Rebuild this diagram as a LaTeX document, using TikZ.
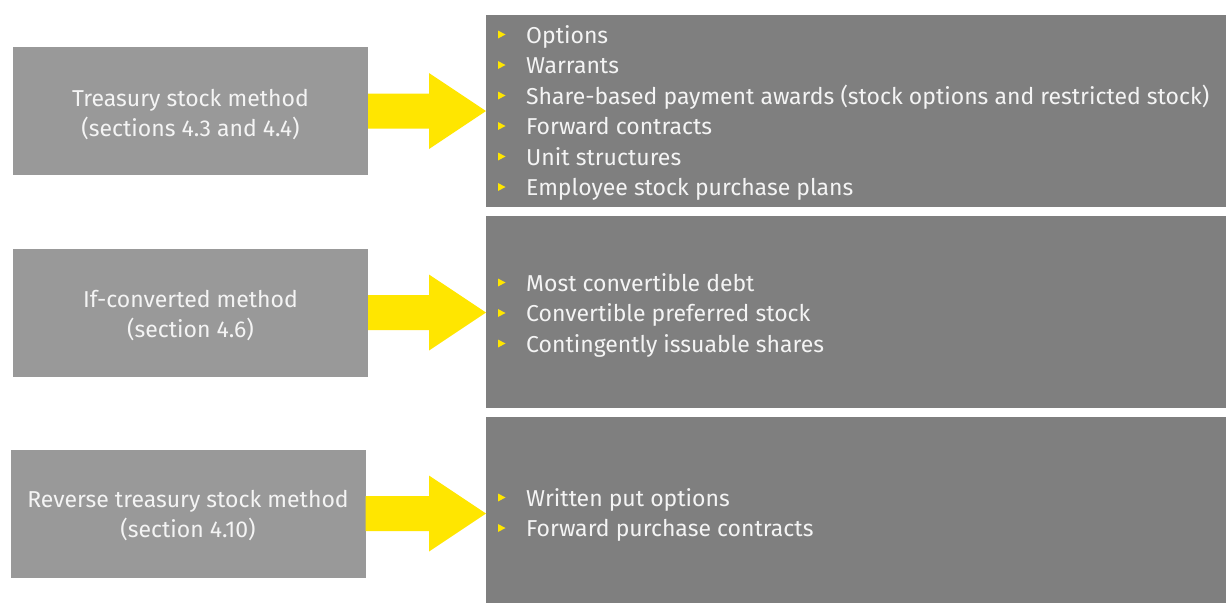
\documentclass[tikz,border=0pt]{standalone}
\usepackage{fontspec}
\setmainfont{Fira Sans}
\usetikzlibrary{calc}
\definecolor{eyyellow}{HTML}{FFE600}
\definecolor{methodgray}{HTML}{999999}
\definecolor{listgray}{HTML}{7F7F7F}
\definecolor{softwhite}{HTML}{F4F4F4}
\begin{document}
\begin{tikzpicture}[x=1pt,y=-1pt,
  method/.style={fill=methodgray,minimum width=355pt,minimum height=128pt,inner sep=0pt},
  methodtext/.style={inner sep=0pt,text=softwhite,align=center,font=\fontsize{23}{30}\selectfont},
  listbox/.style={fill=listgray,minimum width=740pt,inner sep=0pt,anchor=north west},
  itemtext/.style={anchor=base west,inner sep=0pt,text=softwhite,font=\fontsize{23}{30}\selectfont},
  bigarrow/.style={fill=eyyellow},
  bullet/.style={fill=eyyellow}]
\useasboundingbox (0,0) rectangle (1226,603);
\fill[white] (0,0) rectangle (1226,603);

% method boxes with their captions
\node[method] (m1) at (190.5,111) {};
\node[method] (m2) at (190.5,312.5) {};
\node[method] (m3) at (188,513.5) {};
\node[methodtext] (m1t) at ($(m1.center)+(0,3.5)$) {Treasury stock method\\(sections 4.3 and 4.4)};
\node[methodtext] (m2t) at ($(m2.center)+(0,3)$) {If-converted method\\(section 4.6)};
\node[methodtext] (m3t) at ($(m3.center)+(0,2.5)$) {Reverse treasury stock method\\(section 4.10)};

% list panels
\node[listbox,minimum height=192pt] (r1) at (486,15) {};
\node[listbox,minimum height=192pt] (r2) at (486,216) {};
\node[listbox,minimum height=186pt] (r3) at (486,417) {};

% arrows from each method to its panel
\foreach \m/\r in {m1/r1,m2/r2,m3/r3}{
  \fill[bigarrow] ($(\m.east)+(0,-17.5)$) -- ($(\m.east -| 429,0)+(0,-17.5)$)
    -- ($(\m.east -| 429,0)+(0,-38)$) -- (\m.east -| \r.west)
    -- ($(\m.east -| 429,0)+(0,38)$) -- ($(\m.east -| 429,0)+(0,17.5)$)
    -- ($(\m.east)+(0,17.5)$) -- cycle;
}

% bullet items
\foreach \t [count=\i] in {Options,Warrants,Share-based payment awards (stock options and restricted stock),Forward contracts,Unit structures,Employee stock purchase plans}{
  \node[itemtext] (a\i) at (526,{35+30.5*(\i-1)+8}) {\t};
  \fill[bullet] ($(a\i.base west)+(-28,-12.5)$) -- ++(0,8) -- ++(7.5,-4) -- cycle;
}
\foreach \t [count=\i] in {Most convertible debt,Convertible preferred stock,Contingently issuable shares}{
  \node[itemtext] (b\i) at (526,{283+30.5*(\i-1)+8}) {\t};
  \fill[bullet] ($(b\i.base west)+(-28,-12.5)$) -- ++(0,8) -- ++(7.5,-4) -- cycle;
}
\foreach \t [count=\i] in {Written put options,Forward purchase contracts}{
  \node[itemtext] (c\i) at (526,{498+30.5*(\i-1)+8}) {\t};
  \fill[bullet] ($(c\i.base west)+(-28,-12.5)$) -- ++(0,8) -- ++(7.5,-4) -- cycle;
}
\end{tikzpicture}
\end{document}
